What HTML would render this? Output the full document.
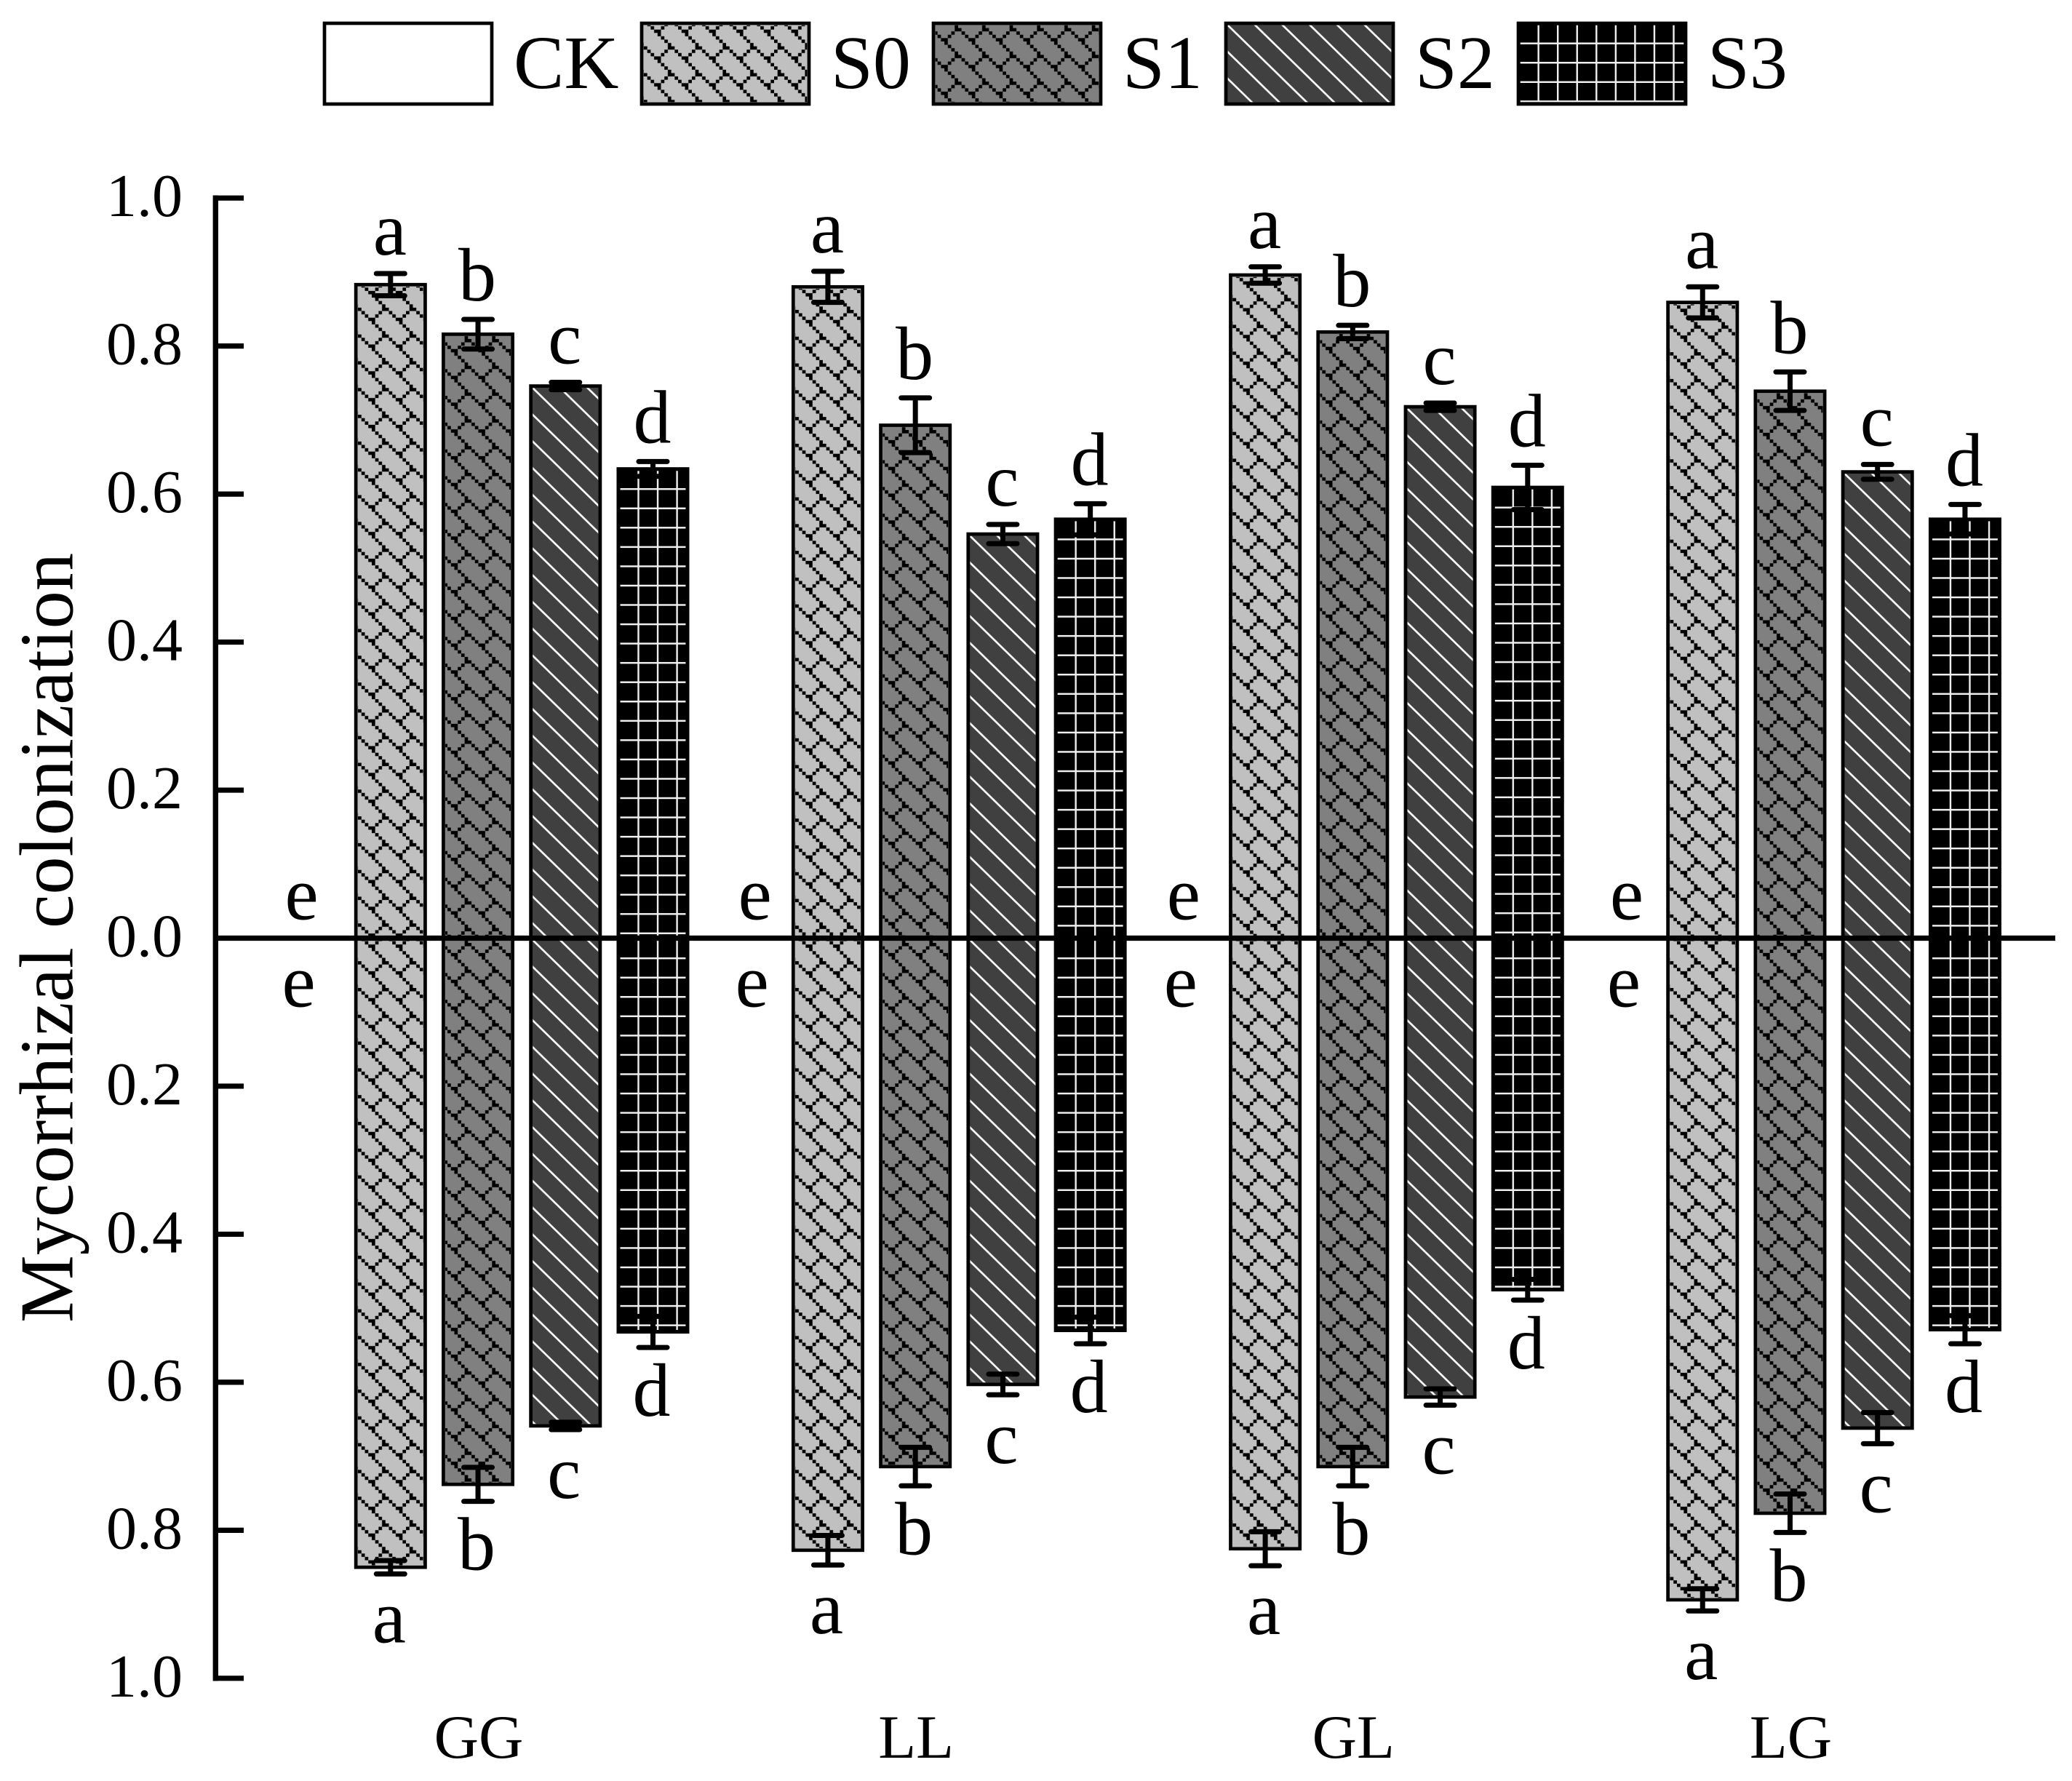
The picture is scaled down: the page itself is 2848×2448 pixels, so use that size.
<!DOCTYPE html>
<html lang="en">
<head>
<meta charset="utf-8">
<title>Mycorrhizal colonization</title>
<style>
html,body{margin:0;padding:0;background:#fff;}
svg{display:block;}
text{font-family:"Liberation Serif",serif;fill:#000;}
</style>
</head>
<body>
<svg id="chart" xmlns="http://www.w3.org/2000/svg" width="2848" height="2448" viewBox="0 0 2848 2448">
  <rect x="0" y="0" width="2848" height="2448" fill="#fff"/>
  <defs id="defs"></defs>
  <g id="bars"></g>
  <g id="axes"></g>
  <g id="errors"></g>
  <g id="letters"></g>
  <g id="legend"></g>
  <text transform="translate(99.5,1289) rotate(-90)" text-anchor="middle" font-size="104.4">Mycorrhizal colonization</text>
</svg>
<script>
// ---- chart data ----
const groups = ['GG', 'LL', 'GL', 'LG'];
const seriesNames = ['CK', 'S0', 'S1', 'S2', 'S3'];
const seriesLetters = ['e', 'a', 'b', 'c', 'd'];
const tickValues = [1.0, 0.8, 0.6, 0.4, 0.2, 0.0, -0.2, -0.4, -0.6, -0.8, -1.0];
const tickLabels = ['1.0', '0.8', '0.6', '0.4', '0.2', '0.0', '0.2', '0.4', '0.6', '0.8', '1.0'];

const upCK = [0, 0, 0, 0];
const upS0 = [0.883, 0.880, 0.896, 0.859];
const upS1 = [0.816, 0.693, 0.819, 0.739];
const upS2 = [0.746, 0.546, 0.718, 0.630];
const upS3 = [0.634, 0.566, 0.609, 0.566];
const upErrCK = [0, 0, 0, 0];
const upErrS0 = [0.015, 0.021, 0.011, 0.021];
const upErrS1 = [0.020, 0.037, 0.009, 0.026];
const upErrS2 = [0.005, 0.013, 0.005, 0.010];
const upErrS3 = [0.010, 0.021, 0.030, 0.020];

const downCK = [0, 0, 0, 0];
const downS0 = [0.850, 0.827, 0.825, 0.894];
const downS1 = [0.738, 0.714, 0.714, 0.777];
const downS2 = [0.659, 0.603, 0.620, 0.662];
const downS3 = [0.532, 0.530, 0.475, 0.529];
const downErrCK = [0, 0, 0, 0];
const downErrS0 = [0.009, 0.020, 0.023, 0.015];
const downErrS1 = [0.023, 0.026, 0.026, 0.026];
const downErrS2 = [0.005, 0.014, 0.011, 0.021];
const downErrS3 = [0.021, 0.018, 0.014, 0.019];

const upValues = [upCK, upS0, upS1, upS2, upS3];
const upErrors = [upErrCK, upErrS0, upErrS1, upErrS2, upErrS3];
const downValues = [downCK, downS0, downS1, downS2, downS3];
const downErrors = [downErrCK, downErrS0, downErrS1, downErrS2, downErrS3];

// ---- layout ----
const NS = 'http://www.w3.org/2000/svg';
const ZERO_Y = 1289.5, UNIT = 1017.3;
const FIRST_X = 416.57, SLOT = 120.23;
const BAR_W = 95.3, BAR_STROKE = 4.7;
const AXIS_X = 296.3, TICK_END = 335, ZERO_LINE_END = 2825;
const fills = ['#ffffff', '#c0c0c0', '#808080', '#404040', '#000000'];
const ckLabelShift = [-2, 20, 8, 16];

function yScale(v) { return ZERO_Y - v * UNIT; }
function xScale(g, s) { return FIRST_X + SLOT * (5 * g + s); }
function mk(tag, attrs, parent) {
  const el = document.createElementNS(NS, tag);
  for (const k in attrs) el.setAttribute(k, attrs[k]);
  if (parent) parent.appendChild(el);
  return el;
}

const defs = document.getElementById('defs');
const barsLayer = document.getElementById('bars');
const axesLayer = document.getElementById('axes');
const errorsLayer = document.getElementById('errors');
const lettersLayer = document.getElementById('letters');
const legendLayer = document.getElementById('legend');

// ---- hatch patterns, anchored to each bar's corner ----
const HW = 37.7, HH = 36.8;
function brickPath() {
  const n = 8, sx = HW / n, sy = HH / n;
  let d = '';
  for (let i = 0; i < n; i++) d += 'M' + (i * sx) + ' ' + (i * sy) + 'h' + sx + 'v' + sy + 'h' + (-sx) + 'z';
  for (let i = 0; i < n / 2; i++) d += 'M' + (HW - (i + 1) * sx) + ' ' + (i * sy) + 'h' + sx + 'v' + sy + 'h' + (-sx) + 'z';
  return d;
}
let patternCount = 0;
function makePattern(s, left, top) {
  const id = 'hatch' + (patternCount++);
  let p;
  if (s === 1 || s === 2) {
    const ox = s === 1 ? 5.3 : 36.3, oy = s === 1 ? 34 : 8.9;
    p = mk('pattern', {id: id, patternUnits: 'userSpaceOnUse', x: left + ox, y: top + oy, width: HW, height: HH}, defs);
    mk('path', {d: brickPath(), fill: '#000'}, p);
  } else if (s === 3) {
    p = mk('pattern', {id: id, patternUnits: 'userSpaceOnUse', x: left + 5, y: top + 5, width: HW, height: HH}, defs);
    mk('path', {d: 'M' + (-HW) + ' ' + (-HH) + 'L' + (2 * HW) + ' ' + (2 * HH) + 'M' + (-HW) + ' 0L' + HW + ' ' + (2 * HH) + 'M0 ' + (-HH) + 'L' + (2 * HW) + ' ' + HH, stroke: '#fff', 'stroke-width': 2.6, fill: 'none'}, p);
  } else if (s === 4) {
    p = mk('pattern', {id: id, patternUnits: 'userSpaceOnUse', x: left + 2.25, y: top + 2.25, width: 26.55, height: 26.55}, defs);
    mk('path', {d: 'M1.2 0V26.55M0 1.2H26.55', stroke: '#f0f0f0', 'stroke-width': 2.4, fill: 'none'}, p);
  }
  return id;
}

function drawBox(parent, s, x, y, w, h) {
  mk('rect', {x: x, y: y, width: w, height: h, fill: fills[s], stroke: '#000', 'stroke-width': BAR_STROKE}, parent);
  if (s === 0 || h < 12) return;
  const id = makePattern(s, x - BAR_STROKE / 2, y - BAR_STROKE / 2);
  mk('rect', {x: x + 2.7, y: y + 2.7, width: w - 5.4, height: h - 5.4, fill: 'url(#' + id + ')'}, parent);
}

// ---- bars, error bars and letters ----
const CAP_HALF = 19.5;
function drawSide(values, errors, sign, sideName) {
  for (let g = 0; g < groups.length; g++) {
    for (let s = 0; s < seriesNames.length; s++) {
      const v = values[s][g], e = errors[s][g];
      const cx = xScale(g, s);
      const yEnd = yScale(sign * v);
      const yTop = Math.min(yEnd, ZERO_Y), yBot = Math.max(yEnd, ZERO_Y);

      const bar = mk('g', {}, barsLayer);
      
      
      drawBox(bar, s, cx - BAR_W / 2, yTop, BAR_W, yBot - yTop);

      if (s > 0) {
        const y1 = yScale(sign * (v + e)), y2 = yScale(sign * (v - e));
        const eb = mk('path', {
          d: 'M' + cx + ' ' + y1 + 'V' + y2 +
             'M' + (cx - CAP_HALF) + ' ' + y1 + 'H' + (cx + CAP_HALF) +
             'M' + (cx - CAP_HALF) + ' ' + y2 + 'H' + (cx + CAP_HALF),
          stroke: '#000', 'stroke-width': 7, 'stroke-linecap': 'round', fill: 'none'
        }, errorsLayer);
        
        
      }

      const tipY = yScale(sign * (v + e));
      const shift = s === 0 ? ckLabelShift[g] - (sign < 0 ? 4 : 0) : (sign < 0 ? -2 : -1);
      const lab = mk('text', {
        x: cx + shift,
        y: sign > 0 ? tipY - 26 : tipY + 94,
        'text-anchor': 'middle', 'font-size': 104
      }, lettersLayer);
      lab.textContent = seriesLetters[s];
      
      
    }
  }
}
drawSide(upValues, upErrors, 1, 'upper');
drawSide(downValues, downErrors, -1, 'lower');

// ---- axes ----
const yAxisLine = mk('line', {x1: AXIS_X, x2: AXIS_X, y1: yScale(1) - 3.7, y2: yScale(-1) + 3.7, stroke: '#000', 'stroke-width': 7.4}, axesLayer);



for (let i = 0; i < tickValues.length; i++) {
  const ty = yScale(tickValues[i]);
  const tick = mk('line', {x1: AXIS_X, x2: tickValues[i] === 0 ? ZERO_LINE_END : TICK_END, y1: ty, y2: ty, stroke: '#000', 'stroke-width': 7.2}, axesLayer);
  
  
  const lab = mk('text', {x: 251, y: ty + 25, 'text-anchor': 'end', 'font-size': 84}, axesLayer);
  lab.textContent = tickLabels[i];
  
  
}

for (let g = 0; g < groups.length; g++) {
  const lab = mk('text', {x: xScale(g, 2) + 1, y: 2416, 'text-anchor': 'middle', 'font-size': 85}, axesLayer);
  lab.textContent = groups[g];
  
  
}

// ---- legend ----
const legendLefts = [444, 880, 1281, 1683, 2085];
for (let s = 0; s < seriesNames.length; s++) {
  const entry = mk('g', {}, legendLayer);
  
  
  drawBox(entry, s, legendLefts[s] + 2, 32, 230, 111);
  const t = mk('text', {x: legendLefts[s] + 234 + 28, y: 121, 'font-size': 104}, entry);
  t.textContent = seriesNames[s];
  
  
}
</script>
</body>
</html>
